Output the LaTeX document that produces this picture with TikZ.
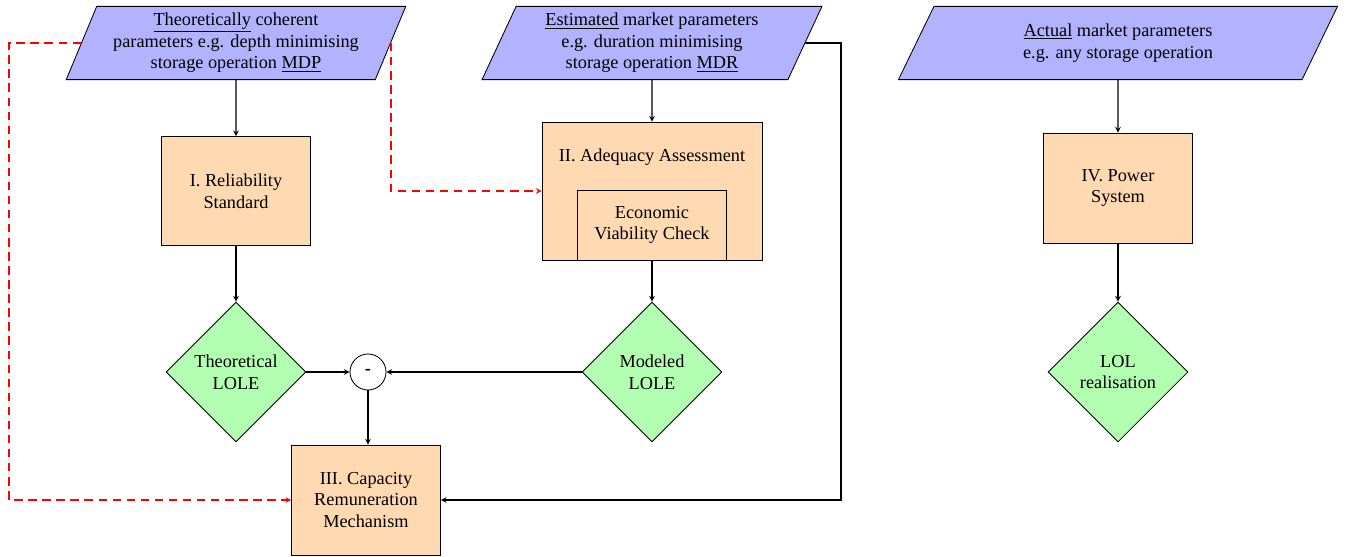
\documentclass[tikz,border=0pt]{standalone}
\usepackage{fontspec}
\setmainfont{Liberation Serif}
\usepackage{xcolor}
\usepackage{tikz}
\usetikzlibrary{positioning,shapes.geometric}

\begin{document}
\begin{tikzpicture}[
    >=stealth,
    every node/.style={font=\fontsize{13}{15.3}\selectfont},
    line/.style={->,thick},
    redline/.style={->,thick,red,dash pattern=on 6pt off 4pt},
    para/.style={trapezium, trapezium left angle=68, trapezium right angle=112, trapezium stretches=true,
                 draw, semithick, fill=blue!30, align=center, minimum height=1.83cm},
    block/.style={rectangle, draw, semithick, fill=orange!30, align=center, minimum width=3.72cm, minimum height=2.72cm},
    decision/.style={diamond, draw, semithick, fill=green!30, align=center, minimum width=3.5cm, minimum height=3.5cm, inner sep=0pt},
    sumdot/.style={circle, draw, semithick, minimum size=0.9cm, inner sep=0pt}
]
    \useasboundingbox (0,0) rectangle (33.65,-13.9);

    % Inputs
    \node at (5.9,-1.075) [para,minimum width=8.5cm] (theo) {\underline{Theoretically} coherent\\parameters e.g. depth minimising\\storage operation \underline{MDP}};
    \node at (16.3,-1.075) [para,minimum width=8.5cm] (est) {\underline{Estimated} market parameters\\e.g. duration minimising\\storage operation \underline{MDR}};
    \node at (27.95,-1.075) [para,minimum width=11cm] (act) {\underline{Actual} market parameters\\e.g. any storage operation};

    % Blocks
    \node at (5.9,-4.775) [block] (rs) {I. Reliability\\Standard};
    \node at (16.3,-4.775) [block,minimum width=5.5cm,minimum height=3.45cm] (aa) {};
    \node at (16.3,-3.925) (aatitle) {II. Adequacy Assessment};
    \node at (16.3,-5.625) [block,minimum width=3.72cm,minimum height=1.75cm] (evc) {Economic\\Viability Check};
    \node at (27.95,-4.7) [block,minimum height=2.75cm] (ps) {IV. Power\\System};
    \node at (9.15,-12.5) [block,minimum height=2.75cm] (crm) {III. Capacity\\Remuneration\\Mechanism};

    % LOLE
    \node at (5.9,-9.3) [decision] (tlole) {Theoretical\\LOLE};
    \node at (16.3,-9.3) [decision] (mlole) {Modeled\\LOLE};
    \node at (27.95,-9.3) [decision] (lol) {LOL\\realisation};
    \node at (9.2,-9.3) [sumdot] (diff) {\textbf{-}};

    \coordinate (rt) at (21.025,-7);
    \coordinate (lt) at (0.225,-7);

    % Main flow
    \draw [line] (theo) -- (rs);
    \draw [line] (rs) -- (tlole);
    \draw [line] (tlole) -- (diff);
    \draw [line] (mlole) -- (diff);
    \draw [line] (diff) -- (diff |- crm.north);
    \draw [line] (est) -- (aa);
    \draw [line] (aa) -- (mlole);
    \draw [line] (act) -- (ps);
    \draw [line] (ps) -- (lol);
    \draw [line] (est.east) -| (rt) |- (crm.east);

    % Dashed
    \draw [redline] (theo.west) -| (lt) |- (crm.west);
    \draw [redline] (theo.east) |- (aa.west);
\end{tikzpicture}
\end{document}
